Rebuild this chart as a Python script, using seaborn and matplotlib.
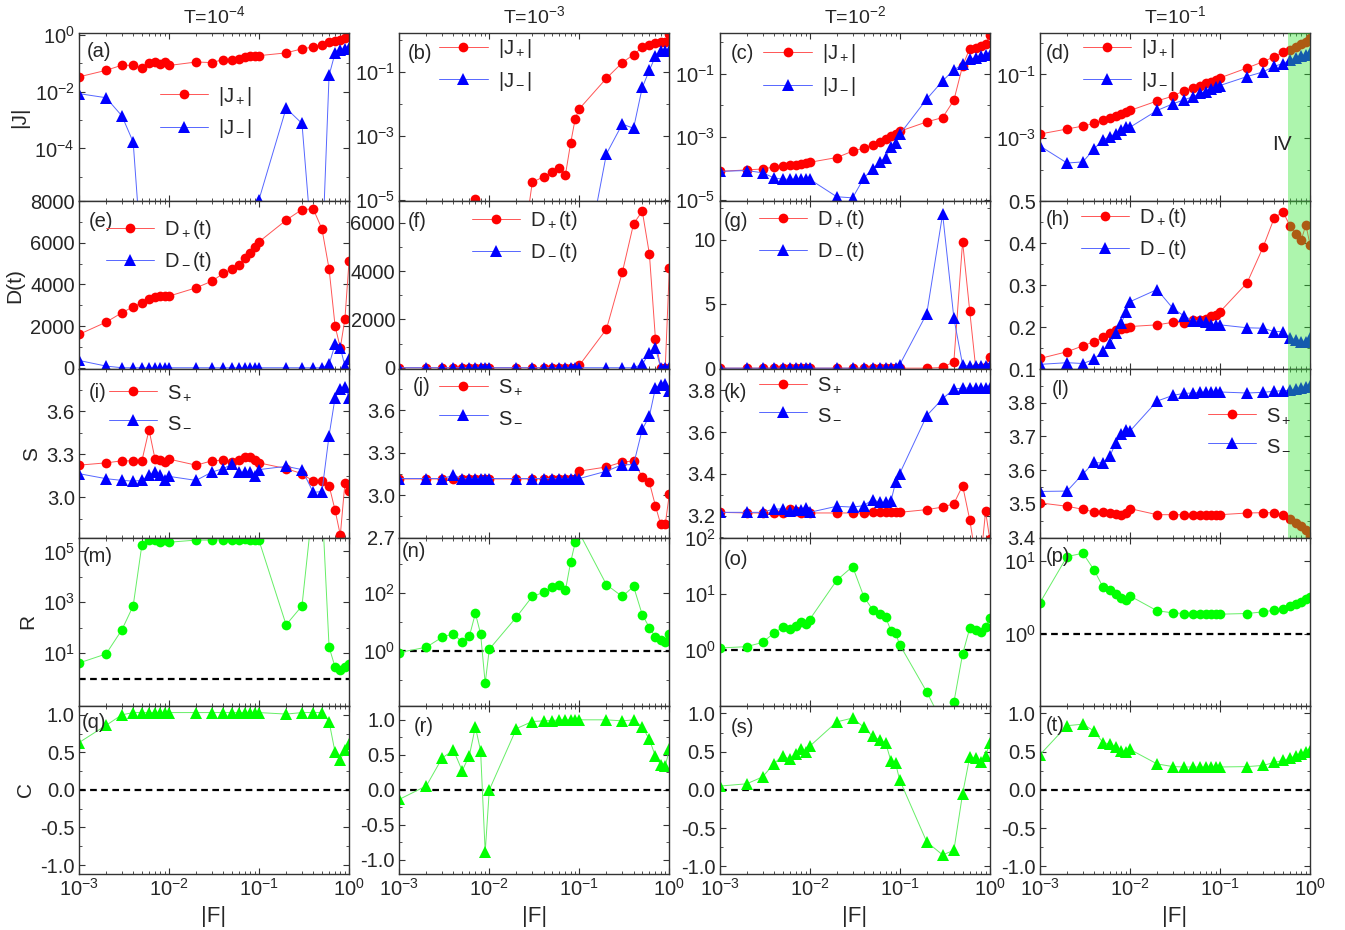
import matplotlib
matplotlib.use("Agg")
import matplotlib.pyplot as plt
import seaborn as sns
from matplotlib.ticker import AutoMinorLocator, NullFormatter

# =====================================================
# DATA
# =====================================================

F = [0.001, 0.002, 0.003, 0.004, 0.005, 0.006, 0.007, 0.008, 0.009,
     0.01, 0.02, 0.03, 0.04, 0.05, 0.06, 0.07, 0.08, 0.09,
     0.1, 0.2, 0.3, 0.4, 0.5, 0.6, 0.7, 0.8, 0.9, 1.0]

temperatures = ["-4", "-3", "-2", "-1"]

# |J| (values below the axis range are kept as 1e-8)
J_plus_a = [0.033, 0.056, 0.085, 0.083, 0.068, 0.10, 0.107, 0.094, 0.114,
            0.083, 0.11, 0.105, 0.134, 0.127, 0.145, 0.165, 0.174, 0.174,
            0.184, 0.23, 0.32, 0.37, 0.45, 0.54, 0.58, 0.67, 0.76, 1.0]
J_minus_a = [8.5e-3, 6.1e-3, 1.4e-3, 1.7e-4, 1e-8, 1e-8, 1e-8, 1e-8, 1e-8,
             1e-8, 1e-8, 1e-8, 1e-8, 1e-8, 1e-8, 1e-8, 1e-8, 1e-8,
             1.6e-6, 2.6e-3, 7.6e-4, 1e-8, 1e-8, 0.037, 0.23, 0.30, 0.32, 0.33]
J_plus_b = [1e-8, 1e-8, 1e-8, 1e-8, 1e-8, 1e-8, 1.05e-5, 1e-8, 1e-8,
            1e-8, 1e-8, 3.5e-5, 5.2e-5, 7.3e-5, 9.6e-5, 5.9e-5, 5.8e-4, 3.4e-3,
            6.9e-3, 0.062, 0.19, 0.34, 0.57, 0.69, 0.80, 0.84, 0.85, 1.44]
J_minus_b = [1e-8, 1e-8, 1e-8, 1e-8, 1e-8, 1e-8, 1e-8, 1e-8, 1e-8,
             1e-8, 1e-8, 1e-8, 1e-8, 1e-8, 1e-8, 1e-8, 1e-8, 1e-8,
             1e-8, 2.7e-4, 2.3e-3, 1.7e-3, 0.032, 0.11, 0.30, 0.43, 0.45, 0.45]
J_plus_c = [8e-5, 8.9e-5, 9.5e-5, 1.1e-4, 1.17e-4, 1.23e-4, 1.3e-4, 1.37e-4, 1.43e-4,
            1.55e-4, 2.2e-4, 3.5e-4, 4.4e-4, 5.6e-4, 6.9e-4, 8.5e-4, 1.07e-3, 1.2e-3,
            1.5e-3, 3e-3, 4.1e-3, 0.0146, 0.18, 0.64, 0.67, 0.75, 0.9, 1.68]
J_minus_c = [8e-5, 8.5e-5, 7.2e-5, 5e-5, 4.5e-5, 4.5e-5, 4.5e-5, 4.5e-5, 4.5e-5,
             4.5e-5, 1.25e-5, 1.15e-5, 4.9e-5, 9.6e-5, 1.55e-4, 2.2e-4, 4.9e-4, 6.6e-4,
             1.2e-3, 0.016, 0.06, 0.135, 0.2, 0.29, 0.33, 0.37, 0.4, 0.41]
J_plus_d = [1.35e-3, 1.94e-3, 2.4e-3, 2.9e-3, 3.7e-3, 4.3e-3, 5e-3, 5.8e-3, 6.6e-3,
            7.4e-3, 0.0147, 0.021, 0.031, 0.0375, 0.044, 0.053, 0.06, 0.069,
            0.078, 0.16, 0.25, 0.36, 0.49, 0.6, 0.74, 0.9, 1.07, 1.38]
J_minus_d = [5.7e-4, 1.66e-4, 1.8e-4, 4.6e-4, 8.9e-4, 1.12e-3, 1.4e-3, 1.85e-3, 2.3e-3,
             2.2e-3, 7.4e-3, 0.012, 0.016, 0.02, 0.0254, 0.029, 0.035, 0.039,
             0.045, 0.086, 0.12, 0.18, 0.22, 0.28, 0.34, 0.37, 0.42, 0.48]

# D(t)
D_plus_e = [1600, 2190, 2640, 2930, 3120, 3280, 3390, 3470, 3470,
            3440, 3840, 4160, 4530, 4750, 4930, 5280, 5490, 5810,
            6050, 7090, 7600, 7630, 6670, 4750, 2000, 960, 2350, 5120]
D_minus_e = [350, 80, 0, 0, 0, 0, 0, 0, 0,
             0, 0, 0, 0, 0, 0, 0, 0, 0,
             0, 0, 0, 0, 0, 160, 1120, 960, 80, 400]
D_plus_f = [0, 0, 0, 0, 0, 0, 0, 0, 0,
            0, 0, 0, 0, 0, 0, 0, 0, 0,
            100, 1600, 3950, 5960, 6490, 4710, 1200, 0, 0, 4150]
D_minus_f = [0, 0, 0, 0, 0, 0, 0, 0, 0,
             0, 0, 0, 0, 0, 0, 0, 0, 0,
             0, 0, 0, 0, 140, 620, 830, 0, 0, 0]
D_plus_g = [0, 0, 0, 0, 0, 0, 0, 0, 0,
            0, 0, 0, 0, 0, 0, 0, 0, 0,
            0, 0.0, 0.05, 0.5, 9.85, 4.45, 0, 0, 0.1, 0.9]
D_minus_g = [0, 0, 0, 0, 0, 0, 0, 0, 0,
             0, 0, 0, 0, 0, 0, 0, 0, 0,
             0.26, 4.25, 12.0, 3.9, 0.26, 0.13, 0.13, 0.13, 0.13, 0.13]
D_plus_h = [0.126, 0.142, 0.156, 0.166, 0.176, 0.186, 0.194, 0.195, 0.198,
            0.202, 0.206, 0.212, 0.211, 0.217, 0.217, 0.221, 0.227, 0.229,
            0.237, 0.306, 0.39, 0.46, 0.475, 0.441, 0.421, 0.408, 0.444, 0.396]
D_minus_h = [0.112, 0.116, 0.114, 0.124, 0.144, 0.163, 0.186, 0.21, 0.236,
             0.261, 0.29, 0.245, 0.227, 0.216, 0.215, 0.212, 0.206, 0.206,
             0.206, 0.199, 0.198, 0.19, 0.19, 0.174, 0.171, 0.166, 0.166, 0.174]

# S
S_plus_i = [3.224, 3.24, 3.254, 3.254, 3.254, 3.47, 3.266, 3.259, 3.247,
            3.266, 3.224, 3.254, 3.259, 3.245, 3.259, 3.28, 3.28, 3.259,
            3.24, 3.2, 3.165, 3.113, 3.113, 3.082, 2.91, 2.737, 3.1, 3.047]
S_minus_i = [3.165, 3.13, 3.118, 3.113, 3.118, 3.153, 3.176, 3.153, 3.122,
             3.146, 3.118, 3.176, 3.2, 3.23, 3.176, 3.176, 3.176, 3.146,
             3.193, 3.216, 3.193, 3.035, 3.04, 3.43, 3.694, 3.753, 3.765, 3.694]
S_plus_j = [3.115, 3.115, 3.115, 3.115, 3.115, 3.115, 3.115, 3.115, 3.115,
            3.115, 3.115, 3.115, 3.115, 3.115, 3.115, 3.115, 3.115, 3.115,
            3.17, 3.2, 3.235, 3.242, 3.13, 3.09, 2.925, 2.795, 2.793, 3.01]
S_minus_j = [3.118, 3.118, 3.118, 3.14, 3.118, 3.118, 3.118, 3.118, 3.118,
             3.118, 3.118, 3.118, 3.118, 3.118, 3.118, 3.118, 3.118, 3.118,
             3.118, 3.17, 3.216, 3.216, 3.466, 3.56, 3.758, 3.78, 3.79, 3.736]
S_plus_k = [3.216, 3.213, 3.213, 3.213, 3.213, 3.232, 3.221, 3.213, 3.221,
            3.213, 3.213, 3.213, 3.213, 3.216, 3.216, 3.216, 3.216, 3.216,
            3.216, 3.229, 3.241, 3.257, 3.344, 3.181, 3.0, 3.0, 3.22, 3.09]
S_minus_k = [3.216, 3.216, 3.216, 3.232, 3.232, 3.221, 3.229, 3.226, 3.237,
             3.216, 3.245, 3.241, 3.248, 3.277, 3.264, 3.264, 3.269, 3.36,
             3.401, 3.679, 3.76, 3.806, 3.811, 3.811, 3.811, 3.811, 3.811, 3.811]
S_plus_l = [3.503, 3.493, 3.484, 3.476, 3.476, 3.474, 3.471, 3.468, 3.474,
            3.486, 3.468, 3.468, 3.468, 3.468, 3.468, 3.468, 3.468, 3.468,
            3.468, 3.473, 3.474, 3.474, 3.466, 3.454, 3.444, 3.434, 3.422, 3.405]
S_minus_l = [3.537, 3.538, 3.589, 3.623, 3.621, 3.643, 3.682, 3.707, 3.719,
             3.716, 3.805, 3.822, 3.828, 3.829, 3.831, 3.832, 3.832, 3.832,
             3.832, 3.829, 3.831, 3.834, 3.836, 3.837, 3.841, 3.844, 3.847, 3.849]

# R
R_m = [4.1, 9.3, 83, 720, 1.8e5, 2.7e5, 2.7e5, 2.3e5, 2.8e5,
       2.3e5, 2.8e5, 2.8e5, 2.9e5, 2.8e5, 2.9e5, 3.2e5, 2.8e5, 2.8e5,
       2.7e5, 130, 720, 1e7, 1e7, 17.5, 2.8, 2.1, 2.8, 3.7]
R_n = [0.87, 1.34, 2.98, 3.9, 1.95, 3.14, 20, 3.9, 0.076,
       1.14, 14.7, 76, 105, 157, 195, 123, 1160, 5700,
       1.2e4, 195, 76, 170, 17.7, 6.4, 3.0, 2.3, 2.1, 3.9]
R_o = [1.09, 1.15, 1.37, 2.0, 2.54, 2.37, 2.65, 3.2, 2.9,
       3.48, 17.4, 30.6, 8.9, 5.25, 4.4, 3.83, 2.2, 2.0,
       1.25, 0.18, 0.05, 0.118, 0.85, 2.44, 2.28, 2.07, 2.54, 3.7]
R_p = [2.65, 11.5, 12.8, 7.5, 4.4, 4.0, 3.5, 3.05, 2.9,
       3.3, 2.06, 1.93, 1.89, 1.85, 1.85, 1.85, 1.85, 1.85,
       1.85, 1.89, 1.99, 2.1, 2.2, 2.39, 2.55, 2.74, 2.95, 3.15]

# C
C_q = [0.63, 0.86, 1.0, 1.03, 1.03, 1.03, 1.03, 1.03, 1.03,
       1.03, 1.03, 1.03, 1.03, 1.03, 1.03, 1.03, 1.03, 1.03,
       1.03, 1.01, 1.03, 1.03, 1.03, 0.91, 0.5, 0.4, 0.53, 0.61]
C_r = [-0.135, 0.058, 0.457, 0.567, 0.274, 0.49, 0.9, 0.56, -0.89,
       0.0, 0.875, 0.976, 0.985, 0.99, 1.0, 1.0, 1.0, 1.0,
       1.0, 1.0, 0.985, 1.0, 0.9, 0.72, 0.48, 0.36, 0.34, 0.58]
C_s = [0.05, 0.08, 0.17, 0.34, 0.45, 0.40, 0.47, 0.53, 0.49,
       0.57, 0.89, 0.94, 0.82, 0.70, 0.655, 0.61, 0.38, 0.35,
       0.13, -0.68, -0.85, -0.79, -0.05, 0.43, 0.415, 0.37, 0.44, 0.61]
C_t = [0.46, 0.84, 0.86, 0.77, 0.62, 0.60, 0.56, 0.515, 0.49,
       0.53, 0.34, 0.305, 0.30, 0.30, 0.30, 0.30, 0.30, 0.30,
       0.30, 0.305, 0.32, 0.36, 0.385, 0.415, 0.445, 0.47, 0.49, 0.51]

# =====================================================
# STYLE
# =====================================================

sns.set_theme(style="ticks")
plt.rcParams["font.family"] = ["Liberation Sans", "DejaVu Sans"]
plt.rcParams["mathtext.fontset"] = "custom"
plt.rcParams["mathtext.rm"] = "Liberation Sans"
plt.rcParams["mathtext.it"] = "Liberation Sans:italic"
plt.rcParams["mathtext.bf"] = "Liberation Sans:bold"
plt.rcParams["mathtext.default"] = "regular"
plt.rcParams["axes.unicode_minus"] = False
plt.rcParams["axes.edgecolor"] = "#333333"
plt.rcParams["axes.linewidth"] = 1.0
plt.rcParams["xtick.direction"] = "in"
plt.rcParams["ytick.direction"] = "in"
plt.rcParams["xtick.top"] = True
plt.rcParams["ytick.right"] = True

# marker colour, connecting line colour
STYLE = {
    "plus": ("#ff0000", "#ff5555", "o", 7.0),
    "minus": ("#0000ff", "#5566ff", "^", 8.0),
    "R": ("#00ff00", "#66ee66", "o", 7.0),
    "C": ("#00ff00", "#66ee66", "^", 8.0),
}

TICK_SIZE = 14.5

# =====================================================
# PANEL SETTINGS
# =====================================================

panels = [
    # row 0 : |J|
    dict(tag="(a)", lab=(0.03, 0.89), series=[(J_plus_a, "J+"), (J_minus_a, "J-")],
         log=True, ylim=(1.4e-6, 1.15), yt=[1, 1e-2, 1e-4], ym=[1e-1, 1e-3, 1e-5], leg=(0.30, 0.53)),
    dict(tag="(b)", lab=(0.03, 0.88), series=[(J_plus_b, "J+"), (J_minus_b, "J-")],
         log=True, ylim=(0.9e-5, 1.6), yt=[1e-1, 1e-3, 1e-5], ym=[1, 1e-2, 1e-4], leg=(0.148, 0.81)),
    dict(tag="(c)", lab=(0.04, 0.88), series=[(J_plus_c, "J+"), (J_minus_c, "J-")],
         log=True, ylim=(0.9e-5, 2.0), yt=[1e-1, 1e-3, 1e-5], ym=[1, 1e-2, 1e-4], leg=(0.162, 0.78)),
    dict(tag="(d)", lab=(0.02, 0.88), series=[(J_plus_d, "J+"), (J_minus_d, "J-")],
         log=True, ylim=(1.05e-5, 2.0), yt=[1e-1, 1e-3], ym=[1, 1e-2, 1e-4], leg=(0.159, 0.81)),
    # row 1 : D(t)
    dict(tag="(e)", lab=(0.035, 0.88), series=[(D_plus_e, "D+"), (D_minus_e, "D-")],
         log=False, ylim=(-80, 8000), yt=[0, 2000, 4000, 6000, 8000], leg=(0.10, 0.735)),
    dict(tag="(f)", lab=(0.03, 0.88), series=[(D_plus_f, "D+"), (D_minus_f, "D-")],
         log=False, ylim=(-70, 6900), yt=[0, 2000, 4000, 6000], leg=(0.269, 0.79)),
    dict(tag="(g)", lab=(0.015, 0.88), series=[(D_plus_g, "D+"), (D_minus_g, "D-")],
         log=False, ylim=(-0.1, 13), yt=[0, 5, 10], leg=(0.144, 0.795)),
    dict(tag="(h)", lab=(0.02, 0.89), series=[(D_plus_h, "D+"), (D_minus_h, "D-")],
         log=False, ylim=(0.1, 0.5), yt=[0.1, 0.2, 0.3, 0.4, 0.5], leg=(0.151, 0.807)),
    # row 2 : S
    dict(tag="(i)", lab=(0.035, 0.86), series=[(S_plus_i, "S+"), (S_minus_i, "S-")],
         log=False, ylim=(2.72, 3.89), yt=[3.0, 3.3, 3.6], leg=(0.111, 0.777)),
    dict(tag="(j)", lab=(0.05, 0.90), series=[(S_plus_j, "S+"), (S_minus_j, "S-")],
         log=False, ylim=(2.7, 3.89), yt=[2.7, 3.0, 3.3, 3.6], leg=(0.148, 0.807)),
    dict(tag="(k)", lab=(0.015, 0.86), series=[(S_plus_k, "S+"), (S_minus_k, "S-")],
         log=False, ylim=(3.095, 3.9), yt=[3.2, 3.4, 3.6, 3.8], leg=(0.144, 0.821)),
    dict(tag="(l)", lab=(0.045, 0.88), series=[(S_plus_l, "S+"), (S_minus_l, "S-")],
         log=False, ylim=(3.4, 3.899), yt=[3.4, 3.5, 3.6, 3.7, 3.8], leg=(0.621, 0.64)),
    # row 3 : R
    dict(tag="(m)", lab=(0.015, 0.887), series=[(R_m, "R")],
         log=True, ylim=(0.085, 3.5e5), yt=[10, 1e3, 1e5], ym=[1, 1e2, 1e4], ref=1.0),
    dict(tag="(n)", lab=(0.01, 0.92), series=[(R_n, "R")],
         log=True, ylim=(0.0125, 8300), yt=[1, 1e2], ym=[0.1, 10, 1e3], ref=1.0),
    dict(tag="(o)", lab=(0.015, 0.87), series=[(R_o, "R")],
         log=True, ylim=(0.102, 100), yt=[1, 10, 100], ym=[], ref=1.0),
    dict(tag="(p)", lab=(0.02, 0.89), series=[(R_p, "R")],
         log=True, ylim=(0.101, 21), yt=[1, 10], ym=[], ref=1.0),
    # row 4 : C
    dict(tag="(q)", lab=(0.01, 0.90), series=[(C_q, "C")],
         log=False, ylim=(-1.12, 1.12), yt=[-1.0, -0.5, 0.0, 0.5, 1.0], ref=0.0),
    dict(tag="(r)", lab=(0.055, 0.875), series=[(C_r, "C")],
         log=False, ylim=(-1.2, 1.2), yt=[-1.0, -0.5, 0.0, 0.5, 1.0], ref=0.0),
    dict(tag="(s)", lab=(0.04, 0.87), series=[(C_s, "C")],
         log=False, ylim=(-1.1, 1.1), yt=[-1.0, -0.5, 0.0, 0.5, 1.0], ref=0.0),
    dict(tag="(t)", lab=(0.02, 0.88), series=[(C_t, "C")],
         log=False, ylim=(-1.1, 1.1), yt=[-1.0, -0.5, 0.0, 0.5, 1.0], ref=0.0),
]

legend_text = {
    "J+": r"$|J_+|$", "J-": r"$|J_-|$",
    "D+": r"$D_+(t)$", "D-": r"$D_-(t)$",
    "S+": r"$S_+$", "S-": r"$S_-$",
}

row_labels = ["|J|", "D(t)", "S", "R", "C"]

# =====================================================
# FIGURE
# =====================================================

fig, axes = plt.subplots(
    5, 4,
    figsize=(13.45, 9.3),
    dpi=100,
    sharex=True,
    gridspec_kw=dict(left=0.0587, right=0.974, top=0.9645, bottom=0.0602,
                     hspace=0, wspace=0.186)
)

for idx, p in enumerate(panels):

    row, col = divmod(idx, 4)
    ax = axes[row, col]

    ax.set_xscale("log")
    if p["log"]:
        ax.set_yscale("log")

    for values, key in p["series"]:
        if key.endswith("+"):
            style = STYLE["plus"]
            label = legend_text[key]
        elif key.endswith("-"):
            style = STYLE["minus"]
            label = legend_text[key]
        else:
            style = STYLE[key]
            label = None

        mcolor, lcolor, marker, ms = style

        sns.lineplot(
            x=F,
            y=values,
            ax=ax,
            color=lcolor,
            marker=marker,
            markersize=ms,
            markerfacecolor=mcolor,
            markeredgewidth=0,
            markeredgecolor=mcolor,
            linewidth=0.7,
            errorbar=None,
            legend=False,
            label=label,
        )

    if "ref" in p:
        ax.axhline(p["ref"], color="black", linestyle=(0, (3, 2)), linewidth=1.6, zorder=1)

    ax.set_xlim(1e-3, 1.0)
    ax.set_ylim(*p["ylim"])
    ax.set_yticks(p["yt"])
    if p["log"]:
        ax.set_yticks(p["ym"], minor=True)
        ax.yaxis.set_minor_formatter(NullFormatter())
    else:
        ax.yaxis.set_minor_locator(AutoMinorLocator(2))

    ax.set_xticks([1e-3, 1e-2, 1e-1, 1.0])
    ax.xaxis.set_minor_formatter(NullFormatter())

    ax.tick_params(which="major", length=4, width=0.8, labelsize=TICK_SIZE,
                   color="#333333", pad=3)
    ax.tick_params(which="minor", length=2, width=0.6, color="#333333")

    ax.set_xlabel("")
    ax.set_ylabel("")

    ax.text(p["lab"][0], p["lab"][1], p["tag"], transform=ax.transAxes,
            fontsize=14.5, ha="left", va="center")

    if "leg" in p:
        ax.legend(
            loc="center left",
            bbox_to_anchor=p["leg"],
            frameon=False,
            fontsize=14.5,
            handlelength=2.4,
            handletextpad=0.5,
            labelspacing=0.45,
            borderpad=0,
            borderaxespad=0,
        )

    # shaded region IV in the last column
    if col == 3 and row < 3:
        ax.axvspan(0.57, 1.0, color=(0.2, 0.9, 0.2), alpha=0.4, linewidth=0, zorder=3)

    if col == 0:
        ax.set_ylabel(row_labels[row], fontsize=15)

    if row == 0:
        ax.set_title(f"T=$10^{{{temperatures[col]}}}$", fontsize=14, pad=7)

    if row == 4:
        ax.set_xlabel("|F|", fontsize=16, labelpad=4)

axes[0, 3].text(0.895, 0.34, "IV", transform=axes[0, 3].transAxes,
                fontsize=15, ha="center", va="center")

plt.savefig("out.png", dpi=100)
plt.close()
